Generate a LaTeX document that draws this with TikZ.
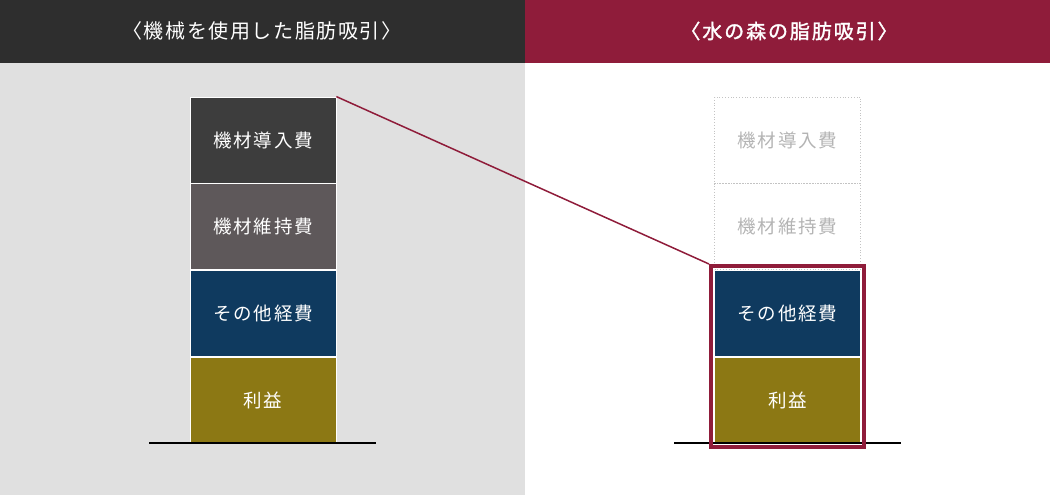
\documentclass[tikz,border=0pt]{standalone}
\usepackage{fontspec}
\setmainfont{Noto Sans CJK JP}
\newfontfamily\jpbold{Noto Sans CJK JP}[FakeBold=1.5]
\definecolor{headdark}{HTML}{2E2E2E}
\definecolor{headred}{HTML}{8F1C3A}
\definecolor{panelgray}{HTML}{E0E0E0}
\definecolor{costA}{HTML}{3D3D3D}
\definecolor{costB}{HTML}{5E585A}
\definecolor{costC}{HTML}{0F3A5F}
\definecolor{costD}{HTML}{8C7814}
\definecolor{ghost}{HTML}{B4B4B4}
\begin{document}
\begin{tikzpicture}[x=1pt,y=-1pt,
  costbox/.style={rectangle,inner sep=0pt,minimum width=146pt,minimum height=86pt,
    draw=white,line width=0.8pt,text=white,
    font=\fontsize{18.5}{18.5}\selectfont\addfontfeature{LetterSpace=10}},
  ghostbox/.style={costbox,draw=ghost!80,dotted,text=ghost},
  headtext/.style={text=white,font=\fontsize{20}{20}\selectfont\addfontfeature{LetterSpace=8}},
  floor/.style={line width=2pt,black}]
  \useasboundingbox (0,0) rectangle (1050,495);

  % panels
  \fill[headdark] (0,0) rectangle (525,63);
  \fill[headred] (525,0) rectangle (1050,63);
  \fill[panelgray] (0,63) rectangle (525,495);

  % headers
  \node[headtext] (headL) at (262,31) {〈機械を使用した脂肪吸引〉};
  \node[headtext,font=\fontsize{20}{20}\jpbold\addfontfeature{LetterSpace=9.5}] (headR) at (789,31) {〈水の森の脂肪吸引〉};

  % machine liposuction
  \node[costbox,fill=costA] (machA) at (263,140) {機材導入費};
  \node[costbox,fill=costB] (machB) at (263,226.5) {機材維持費};
  \node[costbox,fill=costC] (machC) at (263,313) {その他経費};
  \node[costbox,fill=costD] (machD) at (263,400) {利益};
  \coordinate (floorL1) at (149,443);
  \coordinate (floorL2) at (376,443);
  \draw[floor] (floorL1) -- (floorL2);

  % mizunomori
  \node[ghostbox] (mizuA) at (787.5,140) {機材導入費};
  \node[ghostbox] (mizuB) at (787.5,226.5) {機材維持費};
  \node[costbox,fill=costC] (mizuC) at (787.5,313) {その他経費};
  \node[costbox,fill=costD] (mizuD) at (787.5,400) {利益};
  \coordinate (floorR1) at (674,443);
  \coordinate (floorR2) at (901,443);
  \draw[floor] (floorR1) -- (floorR2);
  \node[draw=headred,line width=4pt,inner sep=0pt,minimum width=153pt,minimum height=181pt]
    (frame) at (787.5,356.5) {};

  % link
  \draw[headred,line width=1.5pt] (machA.north east) -- (frame.north west);
\end{tikzpicture}
\end{document}
